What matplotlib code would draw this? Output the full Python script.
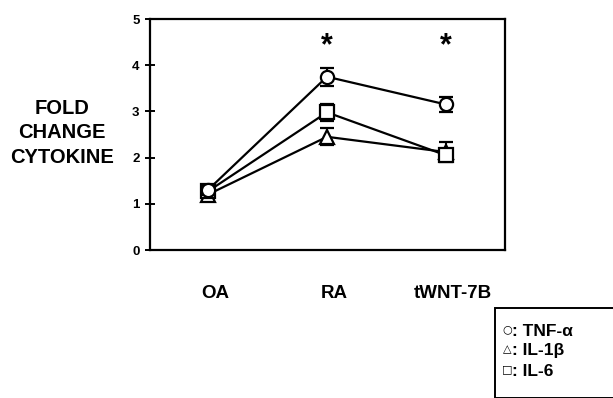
import matplotlib
matplotlib.use("Agg")
import matplotlib.pyplot as plt
from matplotlib.patches import Rectangle

plt.rcParams['font.family'] = ['Liberation Sans', 'DejaVu Sans']
plt.rcParams['font.weight'] = 'bold'

categories = ["OA", "RA", "tWNT-7B"]
tnf = [1.30, 3.75, 3.15]
tnf_err = [0.10, 0.20, 0.17]
il1b = [1.20, 2.45, 2.12]
il1b_err = [0.08, 0.18, 0.22]
il6 = [1.27, 2.98, 2.05]
il6_err = [0.10, 0.18, 0.12]
yticks = [0, 1, 2, 3, 4, 5]
star_cats = [1, 2]
legend_symbols = ["○", "△", "□"]
legend_names = ["TNF-α", "IL-1β", "IL-6"]

fig = plt.figure(figsize=(6.13, 3.98), dpi=100)
ax = fig.add_axes([150/613, 1-250/398, 355/613, 231/398])

x = list(range(len(categories)))
common = dict(color='black', lw=1.6, mfc='white', mec='black', mew=1.6,
              ms=9.5, capsize=5, capthick=1.8, elinewidth=1.5)
ax.errorbar(x, il1b, yerr=il1b_err, marker='^', zorder=3, **common)
ax.errorbar(x, il6, yerr=il6_err, marker='s', zorder=4, **common)
ax.errorbar(x, tnf, yerr=tnf_err, marker='o', zorder=5, **common)

for c in star_cats:
    ax.text(c, 4.42, '*', ha='center', va='center', fontsize=22, fontweight='bold')

ax.set_xlim(-0.487, 2.496)
ax.set_ylim(0, 5)
ax.set_yticks(yticks)
ax.set_yticklabels([str(t) for t in yticks], fontsize=9.5, fontweight='bold')
ax.tick_params(axis='y', direction='inout', length=7, width=1.4, pad=4)
ax.set_xticks([])
for s in ax.spines.values():
    s.set_linewidth(1.6)

for xi, lab in zip(x, categories):
    ax.text(xi + 0.06, -0.95, lab, ha='center', va='center', fontsize=13.5,
            fontweight='bold', transform=ax.transData, clip_on=False)

fig.text(62/613, 1-133/398, "FOLD\nCHANGE\nCYTOKINE", ha='center', va='center',
         fontsize=14.5, fontweight='bold', linespacing=1.35)

# legend box
fig.patches.append(Rectangle((495/613, 0), 1 - 495/613 + 0.01, 1-308/398,
                             transform=fig.transFigure, fill=False, lw=1.4,
                             edgecolor='black'))
for i, (sym, name) in enumerate(zip(legend_symbols, legend_names)):
    y = 1 - (331 + 20*i)/398
    fig.text(507/613, y + 2/398, sym, ha='center', va='center', fontsize=8,
             fontweight='bold', family=['DejaVu Sans'])
    fig.text(512/613, y, ": " + name, ha='left', va='center',
             fontsize=12.5, fontweight='bold')

fig.savefig("out.png", dpi=100)
